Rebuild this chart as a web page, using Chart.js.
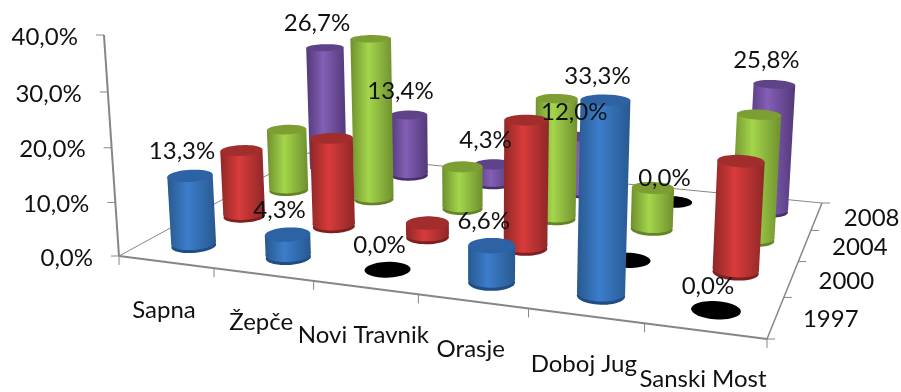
<!DOCTYPE html>
<html>
<head>
<meta charset="utf-8">
<style>
  html, body { margin: 0; background: #fff; }
  canvas { display: block; }
</style>
<script src="https://cdn.jsdelivr.net/npm/chart.js@4"></script>
</head>
<body>
<canvas id="chart" width="901" height="392"></canvas>
<script>
const categories = ['Sapna', 'Žepče', 'Novi Travnik', 'Orasje', 'Doboj Jug', 'Sanski Most'];
const years = ['1997', '2000', '2004', '2008'];
const values1997 = [13.3, 4.3, 0, 6.6, 33.3, 0];
const values2000 = [13.3, 17.4, 2.8, 24.1, 0, 20.1];
const values2004 = [13.0, 33.1, 8.7, 24.0, 8.2, 24.0];
const values2008 = [26.7, 13.4, 4.3, 12.0, 0, 25.8];
const yTicks = [0, 10, 20, 30, 40];

const FONT = '24px Lato, "Open Sans", sans-serif';
const TEXT = '#111';
const AXIS = '#868686';

// dark edge, lit middle, top cap, bottom rim
const palettes = [
  { edge: '#28598f', mid: '#3c7dcb', cap: '#2d63a5', rim: '#1f4d84' },
  { edge: '#8f2727', mid: '#d83b3b', cap: '#a22d2d', rim: '#7e2020' },
  { edge: '#6f8f2e', mid: '#a4d64b', cap: '#7d9e33', rim: '#648228' },
  { edge: '#523878', mid: '#845fb6', cap: '#5f4388', rim: '#472f6b' }
];

// floor corners on the canvas: front left, front right, back right, back left
const floor = [[119, 256], [767, 339], [822, 203], [308, 153]];
// how a full-height column moves in homogeneous coordinates
const rise = { x: -19.2, y: -222.4, w: -0.04 };
const radiusU = 0.0345;
const radiusV = 0.054;
const rimHeight = 0.014;

// square to quad mapping for the floor plane
function floorMatrix(q) {
  const [p0, p1, p2, p3] = q;
  const dx1 = p1[0] - p2[0], dx2 = p3[0] - p2[0], sx = p0[0] - p1[0] + p2[0] - p3[0];
  const dy1 = p1[1] - p2[1], dy2 = p3[1] - p2[1], sy = p0[1] - p1[1] + p2[1] - p3[1];
  const det = dx1 * dy2 - dx2 * dy1;
  const g = (sx * dy2 - dx2 * sy) / det;
  const h = (dx1 * sy - sx * dy1) / det;
  return {
    a: p1[0] - p0[0] + g * p1[0], b: p3[0] - p0[0] + h * p3[0], c: p0[0],
    d: p1[1] - p0[1] + g * p1[1], e: p3[1] - p0[1] + h * p3[1], f: p0[1],
    g, h
  };
}
const m = floorMatrix(floor);

function project(u, v, t) {
  const w = m.g * u + m.h * v + 1 + rise.w * t;
  return {
    x: (m.a * u + m.b * v + m.c + rise.x * t) / w,
    y: (m.d * u + m.e * v + m.f + rise.y * t) / w,
    w
  };
}

function ring(u, v, t) {
  const pts = [];
  for (let i = 0; i < 48; i++) {
    const a = i / 48 * Math.PI * 2;
    pts.push(project(u + radiusU * Math.cos(a), v + radiusV * Math.sin(a), t));
  }
  return pts;
}

function tracePath(ctx, pts) {
  ctx.beginPath();
  pts.forEach((p, i) => i ? ctx.lineTo(p.x, p.y) : ctx.moveTo(p.x, p.y));
  ctx.closePath();
}

function line(ctx, a, b, width) {
  ctx.lineWidth = width;
  ctx.beginPath();
  ctx.moveTo(a.x, a.y);
  ctx.lineTo(b.x, b.y);
  ctx.stroke();
}

function drawCylinder(ctx, u, v, t, colors) {
  const top = ring(u, v, t);
  if (t === 0) {
    ctx.fillStyle = '#000';
    tracePath(ctx, top);
    ctx.fill();
    return;
  }
  const base = ring(u, v, 0);
  const lifted = ring(u, v, rimHeight);
  const side = (pts, f) => pts.reduce((best, p) => f(p.x, best.x) ? p : best);
  const tl = side(top, (a, b) => a < b), tr = side(top, (a, b) => a > b);
  const bl = side(lifted, (a, b) => a < b), br = side(lifted, (a, b) => a > b);

  // darker band along the foot, then the lit body over it
  ctx.fillStyle = colors.rim;
  tracePath(ctx, base);
  ctx.fill();

  const grad = ctx.createLinearGradient(Math.min(tl.x, bl.x), 0, Math.max(tr.x, br.x), 0);
  grad.addColorStop(0, colors.edge);
  grad.addColorStop(0.42, colors.mid);
  grad.addColorStop(1, colors.edge);
  ctx.fillStyle = grad;
  tracePath(ctx, lifted);
  ctx.fill();
  tracePath(ctx, [tl, tr, br, bl]);
  ctx.fill();

  ctx.fillStyle = colors.cap;
  tracePath(ctx, top);
  ctx.fill();
}

const scenePlugin = {
  id: 'scene',
  afterDraw(chart) {
    const ctx = chart.ctx;
    const { x, y, depth } = chart.scales;
    const toU = val => (x.getPixelForValue(val) - x.left) / x.width;
    const toV = val => (depth.getPixelForValue(val) - depth.left) / depth.width;
    const toT = val => (y.bottom - y.getPixelForValue(val)) / y.height;

    ctx.save();
    ctx.strokeStyle = AXIS;
    ctx.lineCap = 'butt';

    // floor outline
    line(ctx, project(0, 0, 0), project(0, 1, 0), 1);
    line(ctx, project(0, 1, 0), project(1, 1, 0), 1);
    line(ctx, project(1, 1, 0), project(1, 0, 0), 1.5);
    line(ctx, project(0, 0, 0), project(1, 0, 0), 2);
    line(ctx, project(0, 0, 0), project(0, 0, 1), 2);

    // value axis
    ctx.font = FONT;
    ctx.fillStyle = TEXT;
    ctx.textBaseline = 'middle';
    ctx.textAlign = 'right';
    y.ticks.forEach(tick => {
      const p = project(0, 0, toT(tick.value));
      line(ctx, { x: p.x - 8, y: p.y }, p, 1);
      ctx.fillText(tick.label, p.x - 26, p.y + 2);
    });

    // category axis
    ctx.textAlign = 'center';
    for (let i = 0; i <= categories.length; i++) {
      const p = project(toU(i), 0, 0);
      line(ctx, p, { x: p.x, y: p.y + 9 }, 1);
    }
    categories.forEach((name, i) => {
      const p = project(toU(i + 0.5), 0, 0);
      ctx.fillText(name, p.x - 2, p.y + 48);
    });

    // series axis
    for (let i = 0; i <= years.length; i++) {
      const p = project(1, toV(i), 0);
      line(ctx, p, { x: p.x + 8, y: p.y }, 1);
    }
    years.forEach((name, i) => {
      const p = project(1, toV(i + 0.5), 0);
      ctx.fillText(name, p.x + 55, p.y + 2);
    });

    // columns, furthest first
    const columns = [];
    chart.data.datasets.forEach((ds, s) => {
      ds.data.forEach(pt => {
        const u = toU(pt.x), v = toV(s + 0.5), t = toT(pt.y);
        columns.push({ u, v, t, value: pt.y, s, far: project(u, v, 0).w, labelled: ds.labelled });
      });
    });
    columns.sort((a, b) => b.far - a.far);
    columns.forEach(c => drawCylinder(ctx, c.u, c.v, c.t, palettes[c.s]));

    // value labels sit above everything
    ctx.fillStyle = TEXT;
    columns.filter(c => c.labelled).forEach(c => {
      const p = project(c.u, c.v, c.t);
      ctx.fillText(c.value.toFixed(1).replace('.', ',') + '%', p.x - 8, p.y - 24);
    });
    ctx.restore();
  }
};

function points(list) {
  return list.map((val, i) => ({ x: i + 0.5, y: val }));
}

new Chart(document.getElementById('chart'), {
  type: 'scatter',
  data: {
    datasets: [
      { label: years[0], data: points(values1997), labelled: true },
      { label: years[1], data: points(values2000), labelled: false },
      { label: years[2], data: points(values2004), labelled: false },
      { label: years[3], data: points(values2008), labelled: true }
    ]
  },
  options: {
    responsive: false,
    animation: false,
    layout: { padding: { left: 119, top: 35, right: 134, bottom: 136 } },
    elements: { point: { radius: 0 } },
    plugins: { legend: { display: false }, tooltip: { enabled: false } },
    scales: {
      x: { type: 'linear', display: false, min: 0, max: categories.length },
      depth: { type: 'linear', axis: 'x', display: false, min: 0, max: years.length },
      y: {
        type: 'linear',
        display: false,
        min: yTicks[0],
        max: yTicks[yTicks.length - 1],
        ticks: {
          stepSize: yTicks[1] - yTicks[0],
          callback: val => val.toFixed(1).replace('.', ',') + '%'
        }
      }
    }
  },
  plugins: [scenePlugin]
});
</script>
</body>
</html>
